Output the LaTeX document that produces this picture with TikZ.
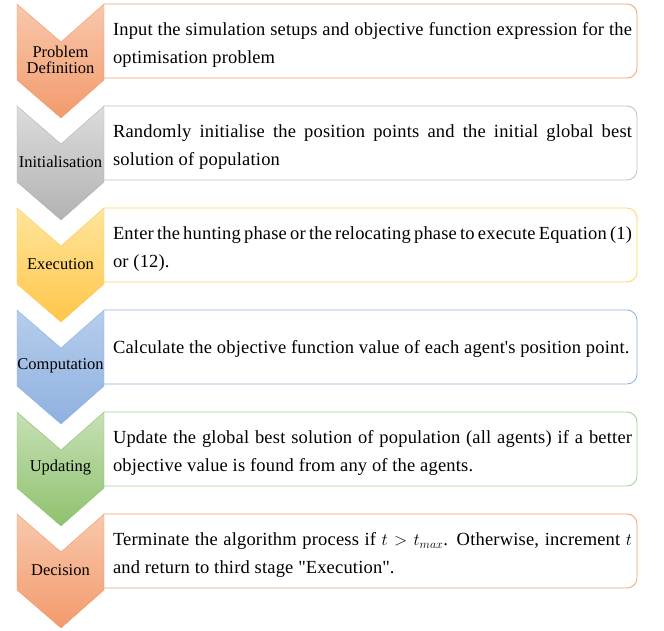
\documentclass[tikz,border=0pt]{standalone}
\usepackage{fontspec}
\setmainfont{Liberation Serif}
\newfontfamily\boxfont[LetterSpace=1]{Liberation Serif}
\definecolor{orangeT}{HTML}{F8C8AC}
\definecolor{orangeB}{HTML}{F39A6C}
\definecolor{orangeL}{HTML}{F4A268}
\definecolor{grayT}{HTML}{DCDCDC}
\definecolor{grayB}{HTML}{B2B2B2}
\definecolor{grayL}{HTML}{C0C0C0}
\definecolor{goldT}{HTML}{FFE59C}
\definecolor{goldB}{HTML}{FFC64A}
\definecolor{goldL}{HTML}{FFD35C}
\definecolor{blueT}{HTML}{B6CDEC}
\definecolor{blueB}{HTML}{8FB1E0}
\definecolor{blueL}{HTML}{8EAFDD}
\definecolor{greenT}{HTML}{C6E0B5}
\definecolor{greenB}{HTML}{8FC26E}
\definecolor{greenL}{HTML}{A4CE8A}
\begin{document}
\begin{tikzpicture}[x=1pt,y=-1pt,
    boxline/.style={thick,rounded corners=10pt},
    stagename/.style={font=\fontsize{16.5}{16.5}\selectfont,align=center,inner sep=0pt},
    stagetext/.style={font=\boxfont\fontsize{18.5}{28}\selectfont,text width=519pt,align=justify,inner sep=0pt}]
    \useasboundingbox (0,0) rectangle (664,630);
    % text boxes
    \draw[boxline,draw=orangeL] (104,4) -- (637,4) -- (637,78) -- (104,78);
    \draw[boxline,draw=grayL] (104,106) -- (637,106) -- (637,180) -- (104,180);
    \draw[boxline,draw=goldL] (104,208) -- (637,208) -- (637,282) -- (104,282);
    \draw[boxline,draw=blueL] (104,310) -- (637,310) -- (637,384) -- (104,384);
    \draw[boxline,draw=greenL] (104,412) -- (637,412) -- (637,486) -- (104,486);
    \draw[boxline,draw=orangeL] (104,514) -- (637,514) -- (637,588) -- (104,588);
    % chevrons
    \shade[top color=orangeT,bottom color=orangeB,draw=orangeB,thin] (17,4) -- (61,42) -- (104,4) -- (104,80) -- (61,118) -- (17,80) -- cycle;
    \shade[top color=grayT,bottom color=grayB,draw=grayB,thin] (17,106) -- (61,144) -- (104,106) -- (104,182) -- (61,220) -- (17,182) -- cycle;
    \shade[top color=goldT,bottom color=goldB,draw=goldB,thin] (17,208) -- (61,246) -- (104,208) -- (104,284) -- (61,322) -- (17,284) -- cycle;
    \shade[top color=blueT,bottom color=blueB,draw=blueB,thin] (17,310) -- (61,348) -- (104,310) -- (104,386) -- (61,424) -- (17,386) -- cycle;
    \shade[top color=greenT,bottom color=greenB,draw=greenB,thin] (17,412) -- (61,450) -- (104,412) -- (104,488) -- (61,526) -- (17,488) -- cycle;
    \shade[top color=orangeT,bottom color=orangeB,draw=orangeB,thin] (17,514) -- (61,552) -- (104,514) -- (104,590) -- (61,628) -- (17,590) -- cycle;
    % stage names
    \node[stagename] (definition) at (60.5,60) {Problem\\Definition};
    \node[stagename] (initialisation) at (60.5,162) {Initialisation};
    \node[stagename] (execution) at (60.5,264) {Execution};
    \node[stagename] (computation) at (60.5,366) {Computation};
    \node[stagename] (updating) at (60.5,468) {Updating};
    \node[stagename] (decision) at (60.5,570) {Decision};
    % descriptions
    \node[stagetext] (inputtext) at (372.5,45) {Input the simulation setups and objective function expression for the\linebreak optimisation problem};
    \node[stagetext] (inittext) at (372.5,147) {Randomly initialise the position points and the initial global best\linebreak solution of population};
    \node[stagetext] (exectext) at (372.5,249) {Enter the hunting phase or the relocating phase to execute Equation (1)\linebreak or (12).};
    \node[stagetext] (comptext) at (372.5,349) {Calculate the objective function value of each agent\textquotesingle s position point.};
    \node[stagetext] (updatetext) at (372.5,453) {Update the global best solution of population (all agents) if a better\linebreak objective value is found from any of the agents.};
    \node[stagetext] (decisiontext) at (372.5,555) {Terminate the algorithm process if $t > t_{max}$. Otherwise, increment $t$\linebreak and return to third stage \textquotedbl Execution\textquotedbl.};
\end{tikzpicture}
\end{document}
